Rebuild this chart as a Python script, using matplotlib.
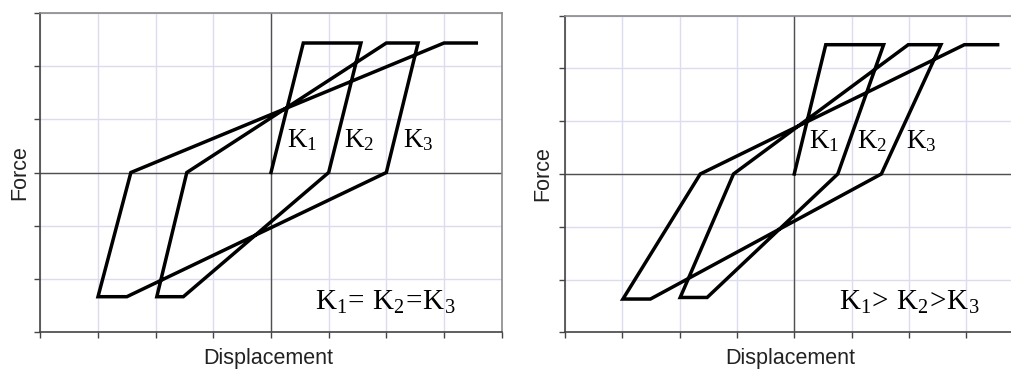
import numpy as np
import matplotlib
matplotlib.use("Agg")
import matplotlib.pyplot as plt

plt.rcParams['mathtext.fontset'] = 'custom'
plt.rcParams['mathtext.rm'] = 'Liberation Serif'
plt.rcParams['mathtext.it'] = 'Liberation Serif'

# hysteresis paths: equal unloading stiffness (left)
disp_eq = [0, 0.56, 1.56, 1.0, -1.52, -1.98, -1.46, 2.0, 2.55, 2.0,
           -2.5, -3.0, -2.43, 3.0, 3.56]
force_eq = [0, 2.44, 2.44, 0, -2.34, -2.34, 0, 2.44, 2.44, 0,
            -2.34, -2.34, 0, 2.44, 2.44]

# decreasing unloading stiffness (right)
disp_dec = [0, 0.55, 1.56, 0.76, -1.52, -1.99, -1.06, 1.99, 2.56, 1.52,
            -2.51, -2.99, -1.64, 2.97, 3.55]
force_dec = [0, 2.45, 2.45, 0, -2.34, -2.34, 0, 2.45, 2.45, 0,
             -2.37, -2.37, 0, 2.45, 2.45]

k_labels = [r'$\mathrm{K_1}$', r'$\mathrm{K_2}$', r'$\mathrm{K_3}$']
k_pos_eq = [(0.28, 0.48), (1.27, 0.48), (2.29, 0.48)]
k_pos_dec = [(0.26, 0.49), (1.09, 0.49), (1.95, 0.49)]
rel_eq = r'$\mathrm{K_1\!=\,K_2\!=\!K_3}$'
rel_dec = r'$\mathrm{K_1\!>\,K_2\!>\!K_3}$'

fig = plt.figure(figsize=(10.11, 3.69), dpi=100)
ax1 = fig.add_axes([0.0399, 0.101, 0.4563, 0.863])
ax2 = fig.add_axes([0.5589, 0.0995, 0.4534, 0.858])


def panel(ax, x, y, kpos, rel, relpos, xlab_x, ylab_x):
    ax.set_xlim(-4, 4)
    ax.set_ylim(-3, 3)
    ax.set_xticks(np.arange(-4, 5))
    ax.set_yticks(np.arange(-3, 4))
    ax.set_xticklabels([])
    ax.set_yticklabels([])
    ax.grid(True, color='#dcdcf0', lw=1.0)
    ax.set_axisbelow(True)
    ax.axhline(0, color='#505050', lw=1.0, zorder=1)
    ax.axvline(0, color='#505050', lw=1.0, zorder=1)
    ax.tick_params(length=4, width=1, color='#444444', direction='out')
    for s in ['left', 'bottom']:
        ax.spines[s].set_color('#444444')
    for s in ['top', 'right']:
        ax.spines[s].set_color('#8a8a8a')
    for s in ax.spines.values():
        s.set_linewidth(1.2)
    ax.plot(x, y, color='black', lw=2.5, solid_joinstyle='miter', zorder=3)
    for lab, (px, py) in zip(k_labels, kpos):
        ax.text(px, py, lab, fontsize=19.5, ha='left', va='baseline', zorder=4)
    ax.text(relpos[0], relpos[1], rel, fontsize=21, ha='left', va='baseline', zorder=4)
    ax.set_xlabel("Displacement", fontsize=15.5, family='Liberation Sans',
                  color='#222222', va='center')
    ax.set_ylabel("Force", fontsize=15.5, family='Liberation Sans',
                  color='#222222', va='center')
    ax.xaxis.set_label_coords(xlab_x, -0.083)
    ax.yaxis.set_label_coords(ylab_x, 0.5)


panel(ax1, disp_eq, force_eq, k_pos_eq, rel_eq, (0.77, -2.59), 0.495, -0.044)
panel(ax2, disp_dec, force_dec, k_pos_dec, rel_dec, (0.78, -2.57), 0.491, -0.048)

fig.savefig("out.png", dpi=100)
